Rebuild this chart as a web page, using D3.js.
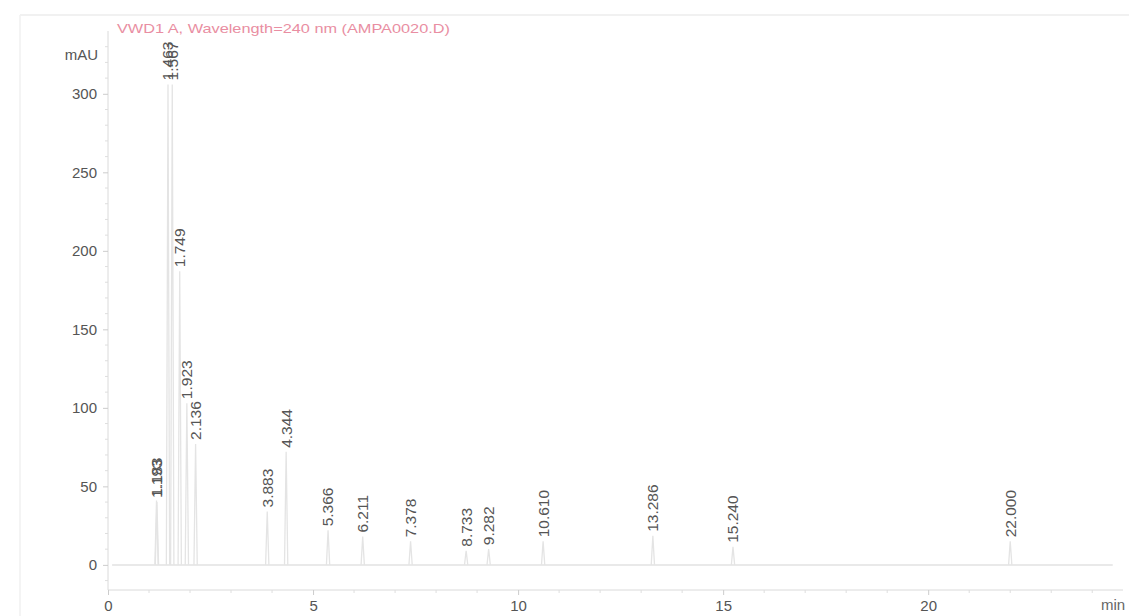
<!DOCTYPE html>
<html>
<head>
<meta charset="utf-8">
<script src="https://cdn.jsdelivr.net/npm/d3@7"></script>
<style>
  html, body { margin: 0; padding: 0; background: #fff; }
  svg { display: block; font-family: "Liberation Sans", Arial, sans-serif; }
</style>
</head>
<body>
<svg id="chart" width="1129" height="616"></svg>
<script>
// Retention times (min) of the integrated peaks
const retentionTimes = [1.183, 1.193, 1.463, 1.567, 1.749, 1.923, 2.136, 3.883, 4.344,
  5.366, 6.211, 7.378, 8.733, 9.282, 10.610, 13.286, 15.240, 22.000];
// Peak apex heights (mAU)
const peakHeights = [41, 40, 306, 306, 187, 103, 77, 34, 72,
  22, 18, 15, 9, 10, 15, 18.5, 11.5, 15];
// Axis ticks
const yTicks = [0, 50, 100, 150, 200, 250, 300];
const xTicks = [0, 5, 10, 15, 20];
const titleText = "VWD1 A, Wavelength=240 nm (AMPA0020.D)";

const svg = d3.select("#chart");
const x = d3.scaleLinear().domain([0, 24.75]).range([108, 1123]);
const y = d3.scaleLinear().domain([-16, 340]).range([590, 31]);

// faint outer frame of the printed page
svg.append("line").attr("x1", 20).attr("x2", 1129).attr("y1", 15).attr("y2", 15)
  .attr("stroke", "#ececec").attr("stroke-width", 1.5);
svg.append("line").attr("x1", 20).attr("x2", 20).attr("y1", 15).attr("y2", 616)
  .attr("stroke", "#f0f0f0").attr("stroke-width", 1.5);

// title
svg.append("text")
  .attr("x", 117).attr("y", 33)
  .attr("font-size", 13)
  .attr("textLength", 333).attr("lengthAdjust", "spacingAndGlyphs")
  .attr("fill", "#e98ea2")
  .text(titleText);

// y axis
const yAxis = d3.axisLeft(y).tickValues(yTicks).tickSize(5).tickPadding(6);
const gy = svg.append("g").attr("transform", `translate(${x(0)},0)`).call(yAxis);
gy.select(".domain").attr("stroke", "#dadada").attr("d", `M0,${y(340)}V${y(-16)}`);
gy.selectAll(".tick line").attr("stroke", "#cccccc");
gy.selectAll(".tick text").attr("font-size", 15).attr("fill", "#555")
  .attr("font-family", "'Liberation Sans', Arial, sans-serif");
// minor y ticks
gy.selectAll(".minor").data(d3.range(-10, 340, 10).filter(v => v % 50 !== 0))
  .enter().append("line").attr("class", "minor")
  .attr("x1", -3).attr("x2", 0).attr("y1", d => y(d)).attr("y2", d => y(d))
  .attr("stroke", "#dedede");

svg.append("text").attr("x", 98).attr("y", 60).attr("text-anchor", "end")
  .attr("font-size", 15).attr("fill", "#555").text("mAU");

// x axis
const xAxis = d3.axisBottom(x).tickValues(xTicks).tickSize(5).tickPadding(5);
const gx = svg.append("g").attr("transform", `translate(0,${y(-16)})`).call(xAxis);
gx.select(".domain").attr("stroke", "#dadada").attr("d", `M${x(0)},0H${x(24.75)}`);
gx.selectAll(".tick line").attr("stroke", "#cccccc");
gx.selectAll(".tick text").attr("font-size", 15).attr("fill", "#555")
  .attr("font-family", "'Liberation Sans', Arial, sans-serif");
gx.selectAll(".minor").data(d3.range(1, 25, 1).filter(v => v % 5 !== 0))
  .enter().append("line").attr("class", "minor")
  .attr("x1", d => x(d)).attr("x2", d => x(d)).attr("y1", 0).attr("y2", 3)
  .attr("stroke", "#dedede");
svg.append("text").attr("x", 1101).attr("y", 610)
  .attr("font-size", 15).attr("fill", "#666").text("min");

// baseline of the signal
svg.append("line")
  .attr("x1", x(0.1)).attr("x2", x(24.5)).attr("y1", y(0)).attr("y2", y(0))
  .attr("stroke", "#e2e2e2").attr("stroke-width", 1.5);

// peak traces
const halfWidth = 0.04;
const line = d3.line().x(d => x(d[0])).y(d => y(d[1]));
const peaks = retentionTimes.map((t, i) => ({ t, h: peakHeights[i] }));
svg.append("g").selectAll("path").data(peaks).enter().append("path")
  .attr("d", p => line([[p.t - halfWidth, 0], [p.t, p.h], [p.t + halfWidth, 0]]))
  .attr("fill", "none").attr("stroke", "#e4e4e4").attr("stroke-width", 1.3);

// retention time labels above each apex
svg.append("g").selectAll("text").data(peaks).enter().append("text")
  .attr("transform", p => `translate(${x(p.t)},${y(p.h) - 4}) rotate(-90)`)
  .attr("dy", "0.35em")
  .attr("font-size", 15.5)
  .attr("fill", "#555")
  .text(p => p.t.toFixed(3));
</script>
</body>
</html>
